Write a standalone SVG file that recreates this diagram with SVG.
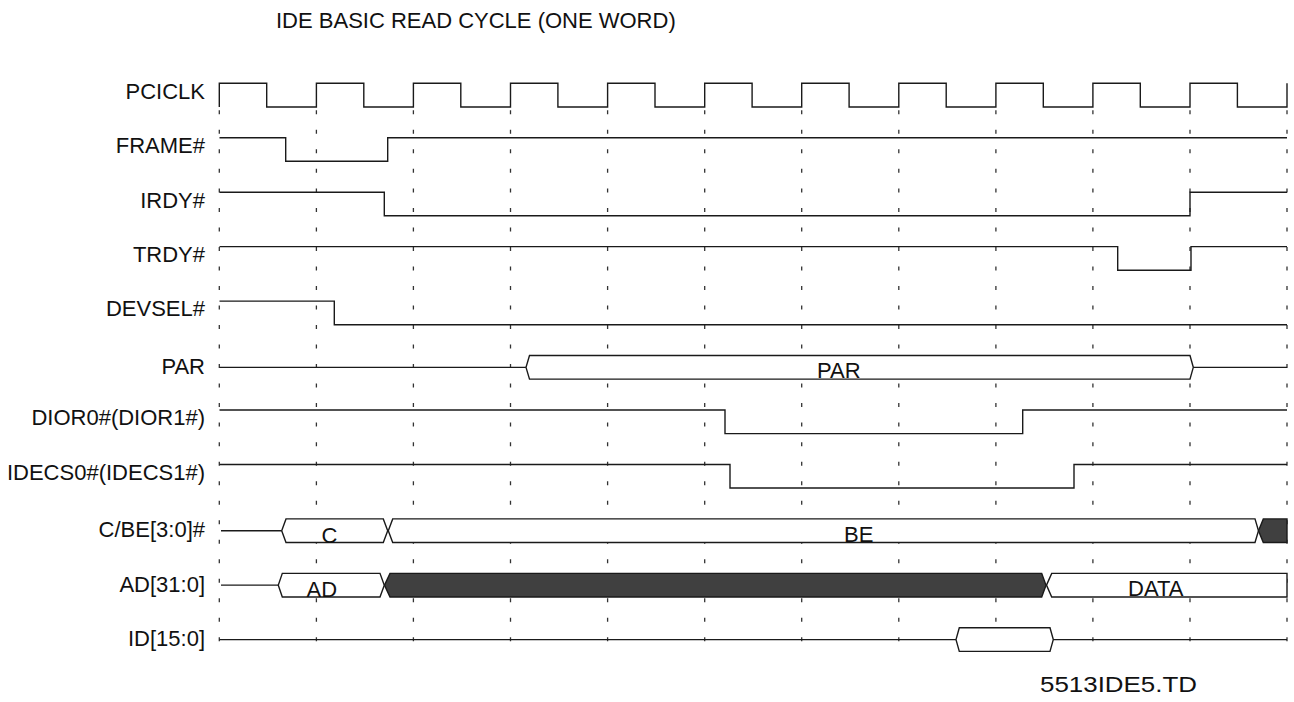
<svg xmlns="http://www.w3.org/2000/svg" width="1294" height="702" viewBox="0 0 1294 702">
<style>
.bg{fill:#fff}
.lbl{font-family:"Liberation Sans",Arial,sans-serif;font-size:22px;fill:#111;text-anchor:end}
.txt{font-family:"Liberation Sans",Arial,sans-serif;font-size:22px;fill:#111}
.sig{fill:none;stroke:#1a1a1a;stroke-width:1.4;stroke-linejoin:miter}
.bus{fill:#fff;stroke:#1a1a1a;stroke-width:1.4}
.dark{fill:#404040;stroke:#1a1a1a;stroke-width:1.4}
.grid{stroke:#333;stroke-width:1.3;stroke-dasharray:4 15.52}
</style>
<rect class="bg" x="0" y="0" width="1294" height="702"/>
<text class="txt" x="276" y="27.5">IDE BASIC READ CYCLE (ONE WORD)</text>

<g id="gridlines">
<line class="grid" x1="219.3" y1="110.3" x2="219.3" y2="642"/>
<line class="grid" x1="316.4" y1="110.3" x2="316.4" y2="642"/>
<line class="grid" x1="413.4" y1="110.3" x2="413.4" y2="642"/>
<line class="grid" x1="510.5" y1="110.3" x2="510.5" y2="642"/>
<line class="grid" x1="607.6" y1="110.3" x2="607.6" y2="642"/>
<line class="grid" x1="704.7" y1="110.3" x2="704.7" y2="642"/>
<line class="grid" x1="801.7" y1="110.3" x2="801.7" y2="642"/>
<line class="grid" x1="898.8" y1="110.3" x2="898.8" y2="642"/>
<line class="grid" x1="995.9" y1="110.3" x2="995.9" y2="642"/>
<line class="grid" x1="1092.9" y1="110.3" x2="1092.9" y2="642"/>
<line class="grid" x1="1190" y1="110.3" x2="1190" y2="642"/>
<line class="grid" x1="1287" y1="110.3" x2="1287" y2="642"/>
</g>

<g id="PCICLK">
<text class="lbl" x="205" y="98.6">PCICLK</text>
<path class="sig" d="M219.3,107 V83.3 H266.7 V107 H316.4 V83.3 H363.8 V107 H413.4 V83.3 H460.8 V107 H510.5 V83.3 H557.9 V107 H607.6 V83.3 H655 V107 H704.7 V83.3 H752.1 V107 H801.7 V83.3 H849.1 V107 H898.8 V83.3 H946.2 V107 H995.9 V83.3 H1043.3 V107 H1092.9 V83.3 H1140.3 V107 H1190 V83.3 H1237.4 V107 H1287 V83.3"/>
</g>

<g id="FRAME">
<text class="lbl" x="205" y="153">FRAME#</text>
<path class="sig" d="M219.5,137.75 H285.7 V161.3 H387.7 V137.75 H1287"/>
</g>

<g id="IRDY">
<text class="lbl" x="205" y="207.5">IRDY#</text>
<path class="sig" d="M219.5,192.2 H384.3 V215.8 H1190 V192.2 H1287"/>
</g>

<g id="TRDY">
<text class="lbl" x="205" y="262">TRDY#</text>
<path class="sig" d="M219.5,246.65 H1117.7 V270.2 H1191 V246.65 H1287"/>
</g>

<g id="DEVSEL">
<text class="lbl" x="205" y="316.4">DEVSEL#</text>
<path class="sig" d="M219.5,301.1 H334.3 V324.7 H1287"/>
</g>

<g id="PAR">
<text class="lbl" x="205" y="373.5">PAR</text>
<path class="sig" d="M219.5,367.35 H526"/>
<path class="bus" d="M526,367.35 L529.5,355.55 H1190 L1193.3,367.35 L1190,379.15 H529.5 Z"/>
<path class="sig" d="M1193.3,367.35 H1287"/>
<text class="txt" x="817" y="377.7">PAR</text>
</g>

<g id="DIOR">
<text class="lbl" x="205" y="425">DIOR0#(DIOR1#)</text>
<path class="sig" d="M219.5,410 H725 V433.6 H1022.7 V410 H1287"/>
</g>

<g id="IDECS">
<text class="lbl" x="205" y="479.6">IDECS0#(IDECS1#)</text>
<path class="sig" d="M219.5,464.45 H730 V488 H1074 V464.45 H1287"/>
</g>

<g id="CBE">
<text class="lbl" x="205" y="537">C/BE[3:0]#</text>
<path class="sig" d="M221,530.7 H281.7"/>
<path class="bus" d="M281.7,530.7 L286,518.9 H383.3 L387.7,530.7 L383.3,542.5 H286 Z"/>
<path class="bus" d="M388.3,530.7 L392.7,518.9 H1255 L1258.5,530.7 L1255,542.5 H392.7 Z"/>
<path class="dark" d="M1258.5,530.7 L1263.3,518.9 H1287 V542.5 H1263.3 Z"/>
<text class="txt" x="321.5" y="542.5">C</text>
<text class="txt" x="844" y="542.3">BE</text>
</g>

<g id="AD">
<text class="lbl" x="205" y="591.6">AD[31:0]</text>
<path class="sig" d="M221,585.15 H278.3"/>
<path class="bus" d="M278.3,585.15 L282.3,573.35 H380 L384.3,585.15 L380,596.95 H282.3 Z"/>
<path class="dark" d="M384.5,585.15 L390,573.35 H1041.7 L1046,585.15 L1041.7,596.95 H390 Z"/>
<path class="bus" d="M1046.5,585.15 L1051.7,573.35 H1287 V596.95 H1051.7 Z"/>
<text class="txt" x="306.5" y="596.7">AD</text>
<text class="txt" x="1128" y="596.3">DATA</text>
</g>

<g id="ID">
<text class="lbl" x="205" y="646">ID[15:0]</text>
<path class="sig" d="M219.5,639.6 H956"/>
<path class="bus" d="M956,639.6 L959.3,627.8 H1050 L1053.3,639.6 L1050,651.4 H959.3 Z"/>
<path class="sig" d="M1053.3,639.6 H1287"/>
</g>

<text class="txt" x="1040" y="692" font-size="23" textLength="157" lengthAdjust="spacingAndGlyphs">5513IDE5.TD</text>
</svg>
